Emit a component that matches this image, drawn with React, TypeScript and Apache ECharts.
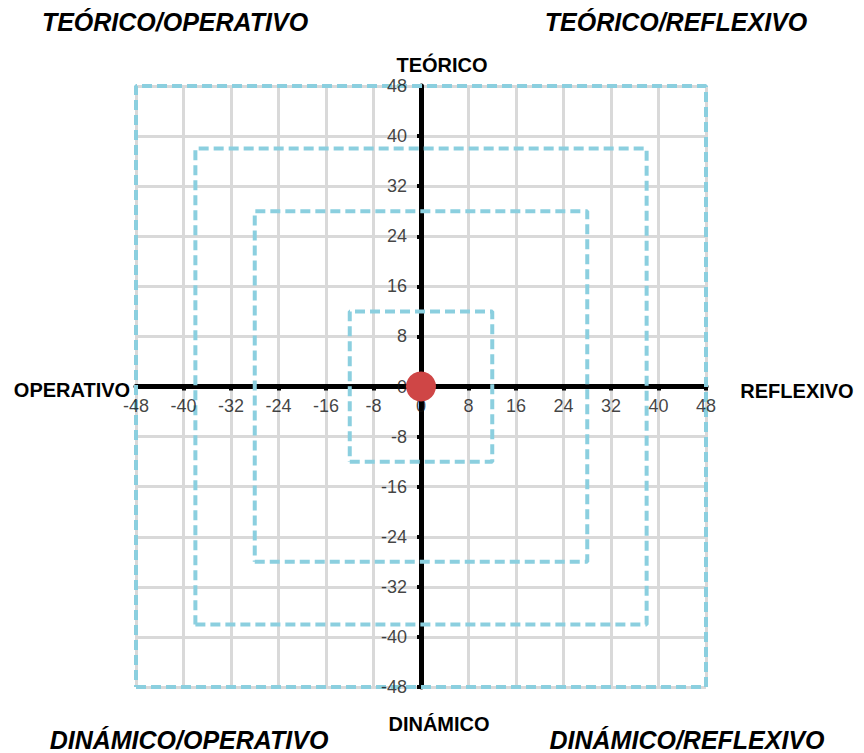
import React, { useEffect, useRef } from "react";
import * as echarts from "echarts";

const AXIS_MIN = -48;
const AXIS_MAX = 48;
const AXIS_STEP = 8;
const xTickValues = [-48, -40, -32, -24, -16, -8, 0, 8, 16, 24, 32, 40, 48];
const yTickValues = [-48, -40, -32, -24, -16, -8, 0, 8, 16, 24, 32, 40, 48];
const squareHalfSizes = [48, 38, 28, 12];
const pointData: [number, number][] = [[0, 0]];
const axisTitles = { top: "TEÓRICO", bottom: "DINÁMICO", left: "OPERATIVO", right: "REFLEXIVO" };
const cornerTitles = {
  topLeft: "TEÓRICO/OPERATIVO",
  topRight: "TEÓRICO/REFLEXIVO",
  bottomLeft: "DINÁMICO/OPERATIVO",
  bottomRight: "DINÁMICO/REFLEXIVO",
};

const FONT = '"Liberation Sans", Arial, sans-serif';

function squarePath(s: number): [number, number][] {
  return [
    [-s, -s],
    [s, -s],
    [s, s],
    [-s, s],
    [-s, -s],
  ];
}

export default function App() {
  const ref = useRef<HTMLDivElement>(null);
  useEffect(() => {
    if (!ref.current) return;
    const chart = echarts.init(ref.current, undefined, { renderer: "svg" });
    const axisCommon = {
      type: "value" as const,
      min: AXIS_MIN,
      max: AXIS_MAX,
      interval: AXIS_STEP,
      z: 1,
      axisLine: { onZero: true, lineStyle: { color: "#000", width: 5 } },
      axisTick: { show: true, length: 4, lineStyle: { color: "#000", width: 4 } },
      axisLabel: { show: false },
      splitLine: { show: true, lineStyle: { color: "#d9d9d9", width: 3 } },
    };
    const cornerFont = `italic bold 25px ${FONT}`;
    const titleFont = `bold 20px ${FONT}`;
    const txt = (text: string, x: number, y: number, font: string) => ({
      type: "text",
      x,
      y,
      z: 100,
      style: { text, font, fill: "#000", align: "center", verticalAlign: "middle" },
    });
    const tickLabelStyle = { color: "#111", fontSize: 18, fontFamily: FONT };
    chart.setOption({
      animation: false,
      grid: { left: 136, right: 158, top: 86, bottom: 66, containLabel: false },
      xAxis: axisCommon,
      yAxis: axisCommon,
      series: [
        ...squareHalfSizes.map((s) => ({
          type: "line",
          data: squarePath(s),
          showSymbol: false,
          symbol: "none",
          zlevel: 1,
          z: 3,
          lineStyle: { color: "#8bcfdf", width: 4, type: [10, 5] },
          silent: true,
        })),
        {
          type: "scatter",
          data: xTickValues.map((v) => [v, 0]),
          symbolSize: 0,
          zlevel: 1,
          z: 5,
          silent: true,
          label: {
            show: true,
            position: "bottom",
            distance: 10,
            formatter: (p: any) => String(p.value[0]),
            ...tickLabelStyle,
          },
        },
        {
          type: "scatter",
          data: yTickValues.map((v) => [0, v]),
          symbolSize: 0,
          zlevel: 1,
          z: 5,
          silent: true,
          label: {
            show: true,
            position: "left",
            distance: 14,
            formatter: (p: any) => String(p.value[1]),
            ...tickLabelStyle,
          },
        },
        {
          type: "scatter",
          data: pointData,
          symbolSize: 30,
          zlevel: 1,
          z: 10,
          itemStyle: { color: "#cf4646", opacity: 1 },
        },
      ],
      graphic: [
        txt(cornerTitles.topLeft, 175, 22, cornerFont),
        txt(cornerTitles.topRight, 676, 22, cornerFont),
        txt(cornerTitles.bottomLeft, 189, 740, cornerFont),
        txt(cornerTitles.bottomRight, 687, 740, cornerFont),
        txt(axisTitles.top, 442, 65, titleFont),
        txt(axisTitles.bottom, 439, 724, titleFont),
        txt(axisTitles.left, 72, 390, titleFont),
        txt(axisTitles.right, 797, 391, titleFont),
      ],
    });
    return () => chart.dispose();
  }, []);
  return <div ref={ref} style={{ width: 864, height: 753, position: "absolute", left: 0, top: 0 }} />;
}
